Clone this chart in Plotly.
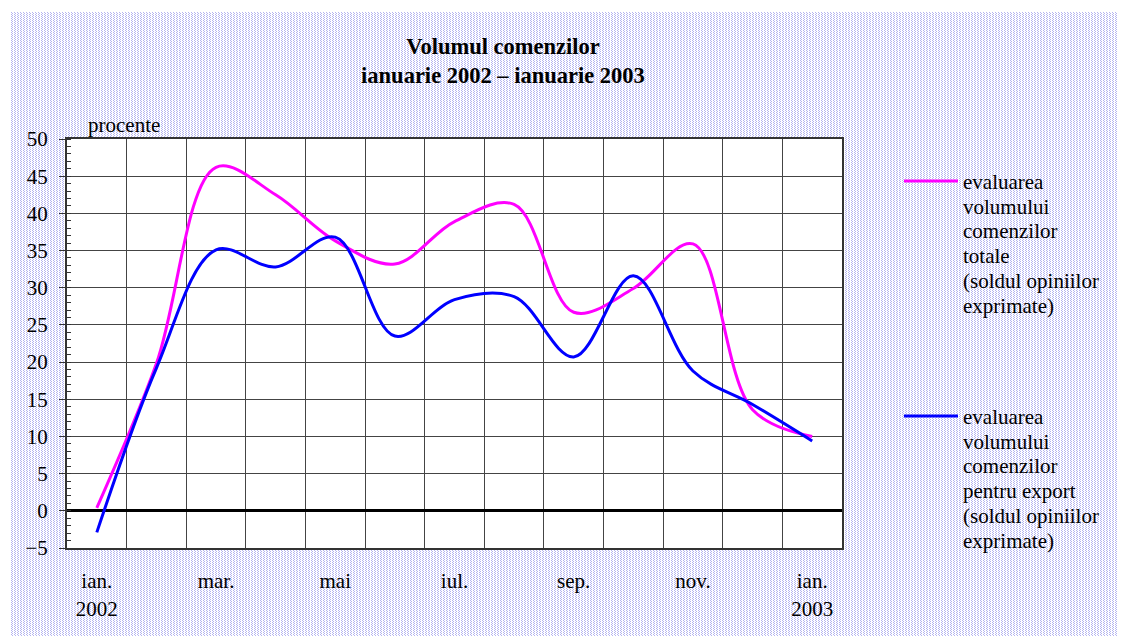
import base64
import plotly.graph_objects as go

# data (percent, balance of opinions)
months = ["ian. 2002", "feb.", "mar.", "apr.", "mai", "iun.", "iul.",
          "aug.", "sep.", "oct.", "nov.", "dec.", "ian. 2003"]
tick_labels = ["ian.<br>2002", "mar.", "mai", "iul.", "sep.", "nov.", "ian.<br>2003"]
total = [0.4, 19.8, 46.2, 42.5, 36.3, 33.2, 38.9, 41.2, 26.7, 29.9, 35.9, 13.6, 10.0]
export = [-2.9, 19.2, 35.1, 32.8, 36.8, 23.5, 28.4, 28.8, 20.7, 31.6, 18.8, 14.3, 9.4]

legend_total = ["evaluarea", "volumului", "comenzilor", "totale",
                "(soldul opiniilor", "exprimate)"]
legend_export = ["evaluarea", "volumului", "comenzilor", "pentru export",
                 "(soldul opiniilor", "exprimate)"]

W, H = 1126, 636
OFF = 8  # the page body adds an 8px margin
P_LEFT, P_RIGHT, P_TOP, P_BOTTOM = 67, 842, 139, 548
PW, PH = P_RIGHT - P_LEFT, P_BOTTOM - P_TOP
FONT = "Liberation Serif, Times New Roman, serif"


def px(x):
    return (x - P_LEFT) / PW


def py(y):
    return (P_BOTTOM - y) / PH


x = list(range(len(months)))

fig = go.Figure()
fig.add_trace(go.Scatter(x=x, y=total, mode="lines", name="total",
                         line=dict(color="#ff00ff", width=3, shape="spline", smoothing=1)))
fig.add_trace(go.Scatter(x=x, y=export, mode="lines", name="export",
                         line=dict(color="#0000ff", width=3, shape="spline", smoothing=1)))

# dotted lavender background
bx, by = 11, 12
bw, bh = W + OFF - bx, H + OFF - by
svg = ('<svg xmlns="http://www.w3.org/2000/svg" width="%d" height="%d">'
       '<defs><pattern id="p" width="3" height="2" patternUnits="userSpaceOnUse">'
       '<rect width="3" height="2" fill="#ffffff"/>'
       '<rect x="0" y="0" width="1" height="1" fill="#b4b4f0"/>'
       '<rect x="1" y="1" width="1" height="1" fill="#b4b4f0"/>'
       '</pattern></defs><rect width="100%%" height="100%%" fill="url(#p)"/></svg>') % (bw, bh)
src = "data:image/svg+xml;base64," + base64.b64encode(svg.encode()).decode()
fig.add_layout_image(dict(source=src, xref="paper", yref="paper",
                          x=px(bx), y=py(by), sizex=bw / PW, sizey=bh / PH,
                          xanchor="left", yanchor="top", sizing="stretch", layer="below"))
fig.add_shape(type="rect", xref="paper", yref="paper", x0=0, x1=1, y0=0, y1=1,
              fillcolor="white", line=dict(width=0), layer="below")

# legend drawn by hand (long line keys, text top-aligned)
for yk, col, lines in [(181, "#ff00ff", legend_total), (416, "#0000ff", legend_export)]:
    fig.add_shape(type="line", xref="paper", yref="paper",
                  x0=px(904), x1=px(958), y0=py(yk), y1=py(yk),
                  line=dict(color=col, width=3))
    for i, t in enumerate(lines):
        fig.add_annotation(text=t, xref="paper", yref="paper", x=px(961), y=py(yk + 1 + i * 24.7),
                           xanchor="left", yanchor="middle", align="left", showarrow=False,
                           font=dict(family=FONT, size=21, color="black"))

fig.add_annotation(text="procente", xref="paper", yref="paper", x=px(86), y=py(125),
                   xanchor="left", yanchor="middle", showarrow=False,
                   font=dict(family=FONT, size=21, color="black"))

fig.update_layout(
    width=W, height=H,
    margin=dict(l=P_LEFT - OFF, r=W - (P_RIGHT - OFF), t=P_TOP - OFF, b=H - (P_BOTTOM - OFF)),
    paper_bgcolor="white", plot_bgcolor="white",
    showlegend=False,
    font=dict(family=FONT, size=21, color="black"),
    title=dict(text="<b>Volumul comenzilor<br>ianuarie 2002 – ianuarie 2003</b>",
               x=(503 - OFF) / W, xref="container", xanchor="center",
               y=1 - (54 - OFF) / H, yref="container", yanchor="top",
               font=dict(family=FONT, size=22.5, color="black")),
)
fig.update_xaxes(range=[-0.5, len(months) - 0.5],
                 tickvals=x[::2], ticktext=tick_labels, ticks="",
                 showgrid=False, zeroline=False,
                 showline=True, linecolor="#333", linewidth=2, mirror=True,
                 ticklabelstandoff=13,
                 minor=dict(tick0=-0.5, dtick=1, showgrid=True, gridcolor="#444", gridwidth=1))
fig.update_yaxes(range=[-5, 50], dtick=5, tick0=0,
                 showgrid=True, gridcolor="#444", gridwidth=1,
                 zeroline=True, zerolinecolor="black", zerolinewidth=2.5,
                 showline=True, linecolor="#333", linewidth=2, mirror=True,
                 ticks="outside", ticklen=6, tickcolor="#333", ticklabelstandoff=7,
                 minor=dict(dtick=1, ticks="inside", ticklen=4, tickcolor="#333", showgrid=False))

fig.write_html("out.html")
